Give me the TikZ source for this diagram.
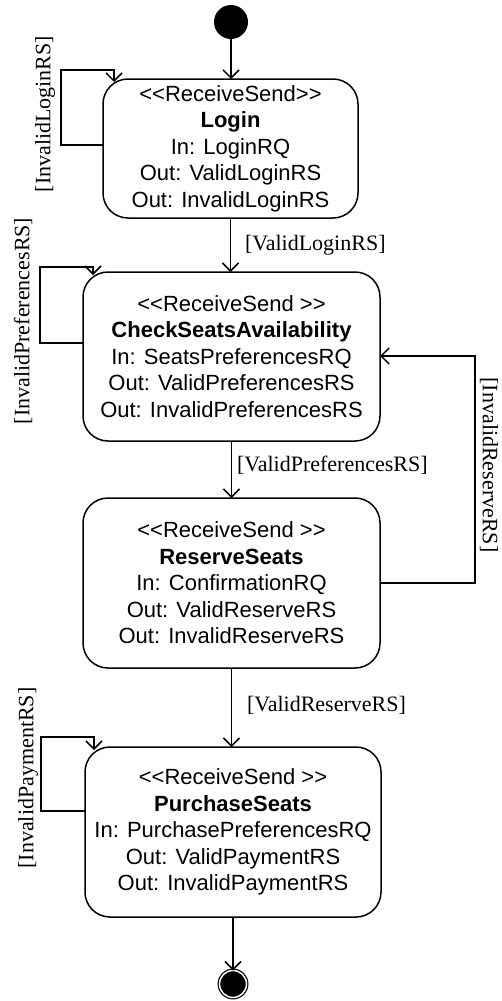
\documentclass[tikz,border=0pt]{standalone}
\usepackage{fontspec}
\setmainfont{Liberation Serif}
\setsansfont{Liberation Sans}
\usetikzlibrary{arrows.meta}

\begin{document}
\begin{tikzpicture}[x=1pt, y=-1pt,
    every node/.style={outer sep=0pt},
    state/.style={draw, line width=1.5pt, rounded corners=25pt, align=center, inner sep=0pt,
        font=\sffamily\fontsize{22}{26.5}\selectfont},
    flow/.style={line width=1.5pt, -{Straight Barb[length=8pt,width=16pt,line width=1.5pt]}},
    guard/.style={inner sep=0pt, font=\rmfamily\fontsize{22}{26}\selectfont}]
    \useasboundingbox (0,0) rectangle (501,1001);
    % start and end
    \node[circle, fill=black, minimum size=34pt, inner sep=0pt] (start) at (231,22) {};
    \node[circle, draw, line width=1.2pt, fill=black, double=white, double distance=1.5pt,
        minimum size=27pt, inner sep=0pt] (finish) at (233,984) {};
    % states
    \node[state, minimum width=255pt, minimum height=139pt] (login) at (230.5,148.5)
        {{<}{<}ReceiveSend{>}{>}\\ \textbf{Login}\\ In: LoginRQ\\ Out: ValidLoginRS\\ Out: InvalidLoginRS};
    \node[state, minimum width=297pt, minimum height=169pt] (check) at (231.5,356.5)
        {{<}{<}ReceiveSend {>}{>}\\ \textbf{CheckSeatsAvailability}\\ In: SeatsPreferencesRQ\\ Out: ValidPreferencesRS\\ Out: InvalidPreferencesRS};
    \node[state, minimum width=297pt, minimum height=170pt] (reserve) at (231.5,583)
        {{<}{<}ReceiveSend {>}{>}\\ \textbf{ReserveSeats}\\ In: ConfirmationRQ\\ Out: ValidReserveRS\\ Out: InvalidReserveRS};
    \node[state, minimum width=296pt, minimum height=170pt] (purchase) at (233,832)
        {{<}{<}ReceiveSend {>}{>}\\ \textbf{PurchaseSeats}\\ In: PurchasePreferencesRQ\\ Out: ValidPaymentRS\\ Out: InvalidPaymentRS};
    % main flow
    \draw[flow] (start) -- (start |- login.north);
    \draw[flow] (login.south) -- (login.south |- check.north);
    \draw[flow] (check.south) -- (check.south |- reserve.north);
    \draw[flow] (reserve.south) -- (reserve.south |- purchase.north);
    \draw[flow] (purchase.south) -- (finish.north);
    % self loops
    \draw[flow] (login.west |- 0,145) -- (61,145) |- (114,70) -- (114,82);
    \draw[flow] (check.west |- 0,343) -- (40,343) |- (93,267) -- (93,275);
    \draw[flow] (purchase.west |- 0,811) -- (41,811) |- (94,737) -- (94,750);
    % back to check
    \draw[flow] (reserve.east |- 0,583) -- (475,583) |- (check.east |- 0,356);
    % guards
    \node[guard, anchor=west] (gvl) at (245,245) {[ValidLoginRS]};
    \node[guard, anchor=west] (gvp) at (237,465) {[ValidPreferencesRS]};
    \node[guard, anchor=west] (gvr) at (247,705) {[ValidReserveRS]};
    \node[guard, rotate=90] (gil) at (45,114) {[InvalidLoginRS]};
    \node[guard, rotate=90] (gip) at (23,321) {[InvalidPreferencesRS]};
    \node[guard, rotate=90] (gipay) at (28,778) {[InvalidPaymentRS]};
    \node[guard, rotate=-90] (gir) at (489,465) {[InvalidReserveRS]};
\end{tikzpicture}
\end{document}
